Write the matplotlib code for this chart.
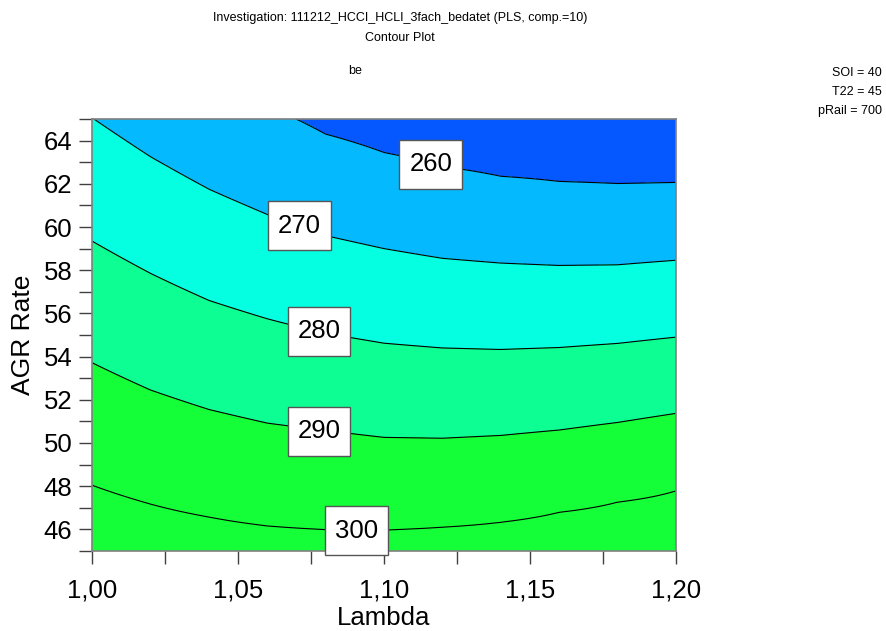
import numpy as np
import matplotlib as mpl
mpl.use('Agg')
import matplotlib.pyplot as plt
import matplotlib.ticker as tick
from matplotlib.path import Path

plt.rcParams['font.family'] = ['Liberation Sans', 'DejaVu Sans']

#--------------------------------------------------------------------------------------------------------
# data

vecLambda = [1.00, 1.02, 1.04, 1.06, 1.08, 1.10, 1.12, 1.14, 1.16, 1.18, 1.20]

# AGR Rate where each iso-line of be crosses the Lambda columns above (250 / 310 lie outside the plot)
lineLevels = [310, 300, 290, 280, 270, 260, 250]
agr_310 = [42.0, 41.0, 40.5, 40.0, 40.0, 40.0, 40.0, 40.3, 40.8, 41.3, 41.8]
agr_300 = [48.04, 47.17, 46.57, 46.16, 45.99, 45.97, 46.10, 46.33, 46.79, 47.26, 47.78]
agr_290 = [53.71, 52.45, 51.55, 50.92, 50.58, 50.26, 50.22, 50.35, 50.60, 50.95, 51.37]
agr_280 = [59.34, 57.85, 56.60, 55.75, 55.08, 54.62, 54.40, 54.33, 54.42, 54.61, 54.90]
agr_270 = [65.05, 63.25, 61.75, 60.58, 59.60, 59.00, 58.55, 58.33, 58.22, 58.25, 58.46]
agr_260 = [71.00, 68.80, 67.00, 65.60, 64.30, 63.45, 62.80, 62.35, 62.11, 62.01, 62.06]
agr_250 = [77.0, 74.5, 72.5, 71.0, 70.0, 69.0, 68.3, 67.8, 67.6, 67.5, 67.5]

contourLevels = [260, 270, 280, 290, 300]
labelPos = [(1.1160, 62.90), (1.0711, 60.06), (1.0777, 55.18), (1.0777, 50.55), (1.0905, 45.93)]

factors = ['SOI = 40', 'T22 = 45', 'pRail = 700']

#--------------------------------------------------------------------------------------------------------

def labelBox(x0, y0, width, height, mutation_size):
    # square box, more room above/below the digits than left/right
    px = 0.38 * mutation_size
    py = 0.49 * mutation_size
    xa, xb = x0 - px, x0 + width + px
    ya, yb = y0 - py, y0 + height + py
    return Path([(xa, ya), (xb, ya), (xb, yb), (xa, yb), (xa, ya)], closed=True)

vecAGR = np.linspace(45, 65, 401)
lines = np.array([agr_310, agr_300, agr_290, agr_280, agr_270, agr_260, agr_250])
matZ = np.zeros((len(vecAGR), len(vecLambda)))
for j in range(len(vecLambda)):
    matZ[:, j] = np.interp(vecAGR, lines[:, j], lineLevels)

fig = plt.figure(figsize=(8.87, 6.31), dpi=100)
ax1 = fig.add_axes([0.1041, 0.1268, 0.6577, 0.6846])

vColor = ['#0557ff', '#05b9ff', '#05ffe1', '#0dff93', '#14ff38', '#14ff38']
ax1.contourf(vecLambda, vecAGR, matZ, levels=[200] + contourLevels + [400], colors=vColor)
ax1.contour(vecLambda, vecAGR, matZ, levels=contourLevels, colors='black', linewidths=0.8)

for lev, (lx, ly) in zip(contourLevels, labelPos):
    ax1.text(lx, ly, str(lev), ha='center', va='center', fontsize=18.5, zorder=5,
             bbox=dict(boxstyle=labelBox, facecolor='white', edgecolor='#555555', linewidth=1))

ax1.set_xlim(1.00, 1.20)
ax1.set_ylim(45, 65)
ax1.xaxis.set_major_locator(tick.MultipleLocator(0.05))
ax1.xaxis.set_minor_locator(tick.MultipleLocator(0.025))
ax1.xaxis.set_major_formatter(tick.FuncFormatter(lambda v, p: ('%.2f' % v).replace('.', ',')))
ax1.yaxis.set_major_locator(tick.MultipleLocator(2))
ax1.yaxis.set_minor_locator(tick.MultipleLocator(1))
ax1.tick_params(which='both', direction='out', length=9.5, width=1, color='#404040', labelsize=18.5)
ax1.tick_params(axis='x', which='major', pad=10)
ax1.tick_params(axis='y', which='major', pad=5)
for s in ax1.spines.values():
    s.set_color('#808080')
    s.set_linewidth(1.2)

ax1.set_xlabel('Lambda', fontsize=18.5, labelpad=3)
ax1.set_ylabel('AGR Rate', fontsize=19, labelpad=6)

fig.text(400 / 887, 1 - 18 / 631, 'Investigation: 111212_HCCI_HCLI_3fach_bedatet (PLS, comp.=10)', ha='center', va='center', fontsize=9)
fig.text(400 / 887, 1 - 38 / 631, 'Contour Plot', ha='center', va='center', fontsize=9)
fig.text(355 / 887, 1 - 71 / 631, 'be', ha='center', va='center', fontsize=9)
for i, s in enumerate(factors):
    fig.text(882 / 887, 1 - (73 + 19 * i) / 631, s, ha='right', va='center', fontsize=9)

plt.savefig('out.png', dpi=100)
